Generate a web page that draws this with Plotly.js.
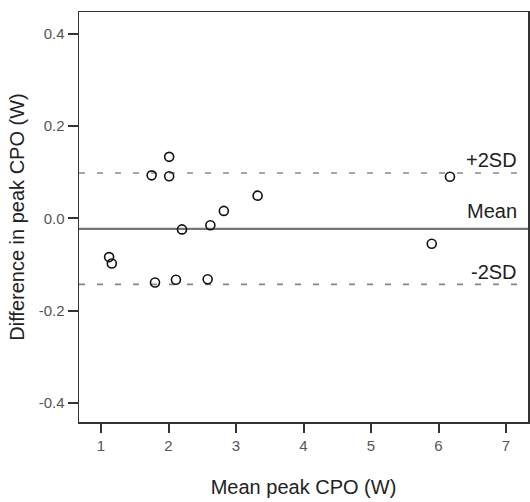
<!DOCTYPE html>
<html>
<head>
<meta charset="utf-8">
<script src="https://cdn.plot.ly/plotly-3.0.1.min.js"></script>
<style>html,body{margin:0;padding:0;background:#fff;}#chart{width:530px;height:502px;}</style>
</head>
<body>
<div id="chart"></div>
<script>
// Bland-Altman data
var meanPeak = [2.01, 1.75, 2.01, 3.32, 2.82, 2.62, 2.20, 1.12, 1.16, 1.80, 2.11, 2.58, 6.17, 5.90];
var diffPeak = [0.133, 0.093, 0.091, 0.049, 0.016, -0.015, -0.024, -0.084, -0.098, -0.139, -0.133, -0.132, 0.090, -0.055];
var meanDiff = -0.023;
var upperLimit = 0.098;
var lowerLimit = -0.143;
var xTicks = [1, 2, 3, 4, 5, 6, 7];
var yTicks = [-0.4, -0.2, 0.0, 0.2, 0.4];
var yTickText = ["-0.4", "-0.2", "0.0", "0.2", "0.4"];
var lineLabels = ["+2SD", "Mean", "-2SD"];

var FONT = "Liberation Sans, Arial, sans-serif";

var trace = {
  x: meanPeak, y: diffPeak, type: "scatter", mode: "markers",
  marker: {symbol: "circle-open", size: 9, color: "#111", line: {width: 1.6, color: "#111"}},
  hoverinfo: "x+y", showlegend: false
};

var layout = {
  width: 530, height: 502,
  margin: {l: 79, r: 2, t: 12, b: 80},
  paper_bgcolor: "#fff", plot_bgcolor: "#fff",
  font: {family: FONT, color: "#222"},
  showlegend: false,
  xaxis: {
    range: [0.674, 7.326], tickvals: xTicks, ticks: "outside", ticklen: 9, tickwidth: 2, tickcolor: "#333",
    tickfont: {size: 15, color: "#555"}, showgrid: false, zeroline: false,
    showline: true, mirror: true, linecolor: "#333", linewidth: 1.5,
    title: {text: "Mean peak CPO (W)", font: {size: 20, color: "#222"}, standoff: 27}
  },
  yaxis: {
    range: [-0.441, 0.4466], tickvals: yTicks, ticktext: yTickText, ticks: "outside", ticklen: 10, tickwidth: 2, tickcolor: "#333",
    tickfont: {size: 15, color: "#555"}, showgrid: false, zeroline: false,
    showline: true, mirror: true, linecolor: "#333", linewidth: 1.5,
    title: {text: "Difference in peak CPO (W)", font: {size: 20, color: "#222"}, standoff: 8}
  },
  shapes: [
    {type: "line", xref: "paper", x0: 0, x1: 1, yref: "y", y0: meanDiff, y1: meanDiff, line: {color: "#777", width: 2.4}, layer: "below"},
    {type: "line", xref: "paper", x0: 0, x1: 1, yref: "y", y0: upperLimit, y1: upperLimit, line: {color: "#888", width: 1.6, dash: "6px,12px"}, layer: "below"},
    {type: "line", xref: "paper", x0: 0, x1: 1, yref: "y", y0: lowerLimit, y1: lowerLimit, line: {color: "#888", width: 1.6, dash: "6px,12px"}, layer: "below"}
  ],
  annotations: [
    {text: lineLabels[0], xref: "paper", x: 1, xanchor: "right", xshift: -9, yref: "y", y: upperLimit, yanchor: "middle", yshift: 13, showarrow: false, font: {size: 20, color: "#222"}},
    {text: lineLabels[1], xref: "paper", x: 1, xanchor: "right", xshift: -9, yref: "y", y: meanDiff, yanchor: "middle", yshift: 18, showarrow: false, font: {size: 20, color: "#222"}},
    {text: lineLabels[2], xref: "paper", x: 1, xanchor: "right", xshift: -9, yref: "y", y: lowerLimit, yanchor: "middle", yshift: 12, showarrow: false, font: {size: 20, color: "#222"}}
  ]
};

Plotly.newPlot("chart", [trace], layout, {displayModeBar: false, staticPlot: true});
</script>
</body>
</html>
